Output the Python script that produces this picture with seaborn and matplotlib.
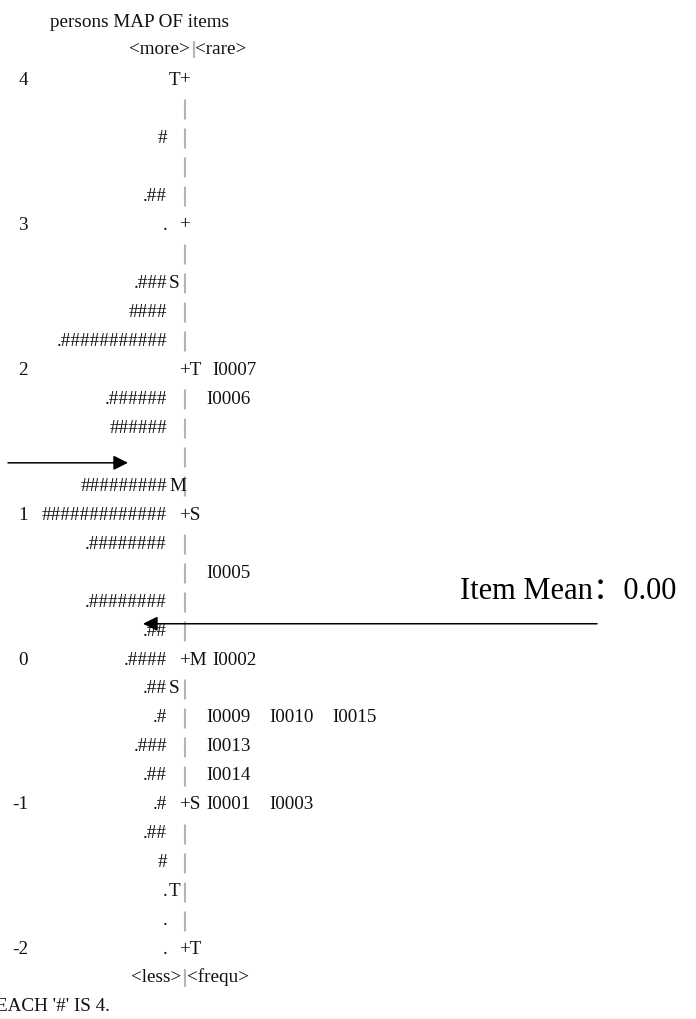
import matplotlib
matplotlib.use("Agg")
import matplotlib.pyplot as plt
import seaborn as sns
import pandas as pd

# ---- Wright map content: one entry per 0.2-logit row ----
logits = [4.0, 3.8, 3.6, 3.4, 3.2, 3.0, 2.8, 2.6, 2.4, 2.2, 2.0,
          1.8, 1.6, 1.4, 1.2, 1.0, 0.8, 0.6, 0.4, 0.2, 0.0,
          -0.2, -0.4, -0.6, -0.8, -1.0, -1.2, -1.4, -1.6, -1.8, -2.0]
# number of '#' (each = 4 persons) per row
person_hashes = [0, 0, 1, 0, 2, 0, 0, 3, 4, 11, 0,
                 6, 6, 0, 9, 13, 8, 0, 8, 2, 4,
                 2, 1, 3, 2, 1, 2, 1, 0, 0, 0]
# leading '.' (1-3 persons) per row
person_dots = [0, 0, 0, 0, 1, 1, 0, 1, 0, 1, 0,
               1, 0, 0, 0, 0, 1, 0, 1, 1, 1,
               1, 1, 1, 1, 1, 1, 0, 1, 1, 1]
# person distribution markers (mean, 1 SD, 2 SD)
person_marker = {4.0: "T", 2.6: "S", 1.2: "M", -0.2: "S", -1.6: "T"}
# item distribution markers
item_marker = {2.0: "T", 1.0: "S", 0.0: "M", -1.0: "S", -2.0: "T"}
# items located at each row
item_rows = {2.0: ["I0007"], 1.8: ["I0006"], 0.6: ["I0005"], 0.0: ["I0002"],
             -0.4: ["I0009", "I0010", "I0015"], -0.6: ["I0013"],
             -0.8: ["I0014"], -1.0: ["I0001", "I0003"]}
scale_labels = [4, 3, 2, 1, 0, -1, -2]

title = "persons MAP OF items"
top_caption = ("<more>", "<rare>")
bottom_caption = ("<less>", "<frequ>")
footnote = "EACH '#' IS 4."
person_mean_y = 1.36
item_mean_y = 0.25
item_mean_text = "Item Mean\uff1a0.00"

# ---- figure ----
sns.set_theme(style="white")
plt.rcParams["font.family"] = ["Liberation Serif", "Noto Sans CJK SC", "DejaVu Sans"]

fig = plt.figure(figsize=(6.96, 10.19), dpi=100)
ax = fig.add_axes([0, 0, 1, 1])
ax.set_xlim(0, 696)
ax.set_ylim(-2.476, 4.552)
ax.axis("off")

FS = 13.8
INK = "#111111"
ORANGE = "#eda46a"
BLUE = "#86c3ee"
X_NUM = 28
X_PERSON = 167
X_PMARK = 169
X_BAR = 184
X_PLUS = 179
X_ITEM = 206
ITEM_STEP = 63

# rows that are not on an integer logit carry the '|' ruler
bar_df = pd.DataFrame({"x": X_BAR,
                       "y": [v for v in logits if abs(v - round(v)) > 1e-6]})
sns.scatterplot(data=bar_df, x="x", y="y", marker="|", s=200,
                linewidth=0.8, color=ORANGE, ax=ax, legend=False)
sns.scatterplot(data=bar_df.assign(x=X_BAR + 1.3), x="x", y="y", marker="|",
                s=200, linewidth=0.8, color=BLUE, ax=ax, legend=False)

for i, y in enumerate(logits):
    persons = "." * person_dots[i] + "#" * person_hashes[i]
    if persons:
        ax.text(X_PERSON, y, persons, ha="right", va="center",
                fontsize=FS, color=INK)
    if y in person_marker:
        ax.text(X_PMARK, y, person_marker[y], ha="left", va="center",
                fontsize=FS, color=INK)
    shift = 0
    if abs(y - round(y)) < 1e-6:
        mark = item_marker.get(y, "")
        ax.text(X_PLUS, y, "+" + mark, ha="left", va="center",
                fontsize=FS, color=INK)
        if mark in ("M", "T"):
            shift = 6
    for j, name in enumerate(item_rows.get(y, [])):
        ax.text(X_ITEM + shift + j * ITEM_STEP, y, name, ha="left",
                va="center", fontsize=FS, color=INK)

for v in scale_labels:
    ax.text(X_NUM, v, str(v), ha="right", va="center", fontsize=FS, color=INK)

ax.text(50, 4.4, title, ha="left", va="center", fontsize=FS, color=INK)
ax.text(X_BAR + 6, 4.21, top_caption[0], ha="right", va="center",
        fontsize=FS, color=INK)
ax.text(X_BAR + 11, 4.21, top_caption[1], ha="left", va="center",
        fontsize=FS, color=INK)
ax.plot([X_BAR + 8.5, X_BAR + 8.5], [4.16, 4.27], color=ORANGE, lw=0.8)
ax.plot([X_BAR + 9.8, X_BAR + 9.8], [4.16, 4.27], color=BLUE, lw=0.8)
ax.text(X_BAR - 3, -2.19, bottom_caption[0], ha="right", va="center",
        fontsize=FS, color=INK)
ax.text(X_BAR + 3, -2.19, bottom_caption[1], ha="left", va="center",
        fontsize=FS, color=INK)
ax.plot([X_BAR, X_BAR], [-2.25, -2.13], color=ORANGE, lw=0.8)
ax.plot([X_BAR + 1.3, X_BAR + 1.3], [-2.25, -2.13], color=BLUE, lw=0.8)
ax.text(110, -2.39, footnote, ha="right", va="center", fontsize=FS, color=INK)

# mean annotations
ax.annotate("", xy=(128, person_mean_y), xytext=(8, person_mean_y),
            arrowprops=dict(arrowstyle="-|>", color="black", lw=1.1,
                            mutation_scale=22, shrinkA=0, shrinkB=0))
ax.annotate("", xy=(143, item_mean_y), xytext=(597, item_mean_y),
            arrowprops=dict(arrowstyle="-|>", color="black", lw=1.1,
                            mutation_scale=22, shrinkA=0, shrinkB=0))
ax.text(460, 0.47, item_mean_text, ha="left", va="center",
        fontsize=22, color="black")

fig.savefig("out.png", dpi=100)
